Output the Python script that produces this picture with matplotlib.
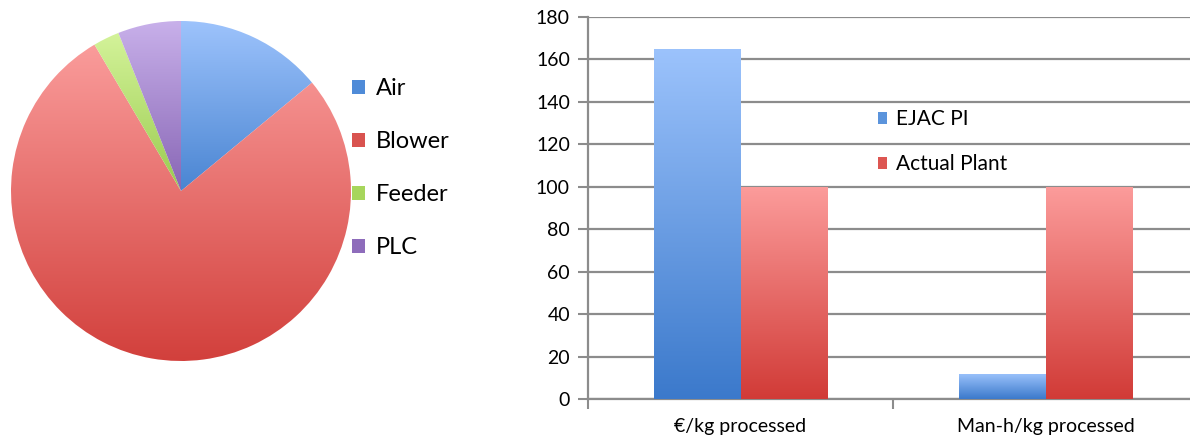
import numpy as np
import matplotlib
matplotlib.use("Agg")
import matplotlib.pyplot as plt
from matplotlib.colors import LinearSegmentedColormap
from matplotlib.patches import Patch

plt.rcParams['font.family'] = ['Lato', 'DejaVu Sans']

# Pie: share of energy/cost by component
pie_labels = ["Air", "Blower", "Feeder", "PLC"]
pie_values = [14.0, 77.5, 2.5, 6.0]

# Bars: EJAC PI vs Actual Plant
categories = ["€/kg processed", "Man-h/kg processed"]
series_names = ["EJAC PI", "Actual Plant"]
ejac_values = [165, 12]
plant_values = [100, 100]
y_ticks = [0, 20, 40, 60, 80, 100, 120, 140, 160, 180]

# (top colour, bottom colour) gradients
pie_grad = [("#9dc3fc", "#4a85d2"),
            ("#fa9c9b", "#d2403c"),
            ("#d4f39a", "#9acb4f"),
            ("#c8b0ea", "#8866b5")]
pie_solid = ["#4f8bd8", "#d9534f", "#a7d65c", "#8e6cbb"]
bar_grad = [("#9cc3fc", "#3b79cb"), ("#fc9c9b", "#d13b37")]
bar_solid = ["#5b94dc", "#dd5652"]

fig = plt.figure(figsize=(11.9, 4.4), dpi=100)


def gradient_fill(ax, patch, top, bottom, extent):
    cmap = LinearSegmentedColormap.from_list("g", [bottom, top])
    grad = np.linspace(0, 1, 256).reshape(-1, 1)
    im = ax.imshow(grad, cmap=cmap, extent=extent, origin="lower",
                   aspect="auto", interpolation="bicubic", zorder=patch.get_zorder())
    im.set_clip_path(patch)
    return im


# ---- pie ----
axp = fig.add_axes([11 / 1190, 1 - 361 / 440, 340 / 1190, 340 / 440])
wedges, _ = axp.pie(pie_values, startangle=90, counterclock=False,
                    colors=pie_solid, radius=1.0,
                    wedgeprops=dict(linewidth=0))
for w, (top, bot) in zip(wedges, pie_grad):
    ext = w.get_path().get_extents()
    gradient_fill(axp, w, top, bot, [ext.x0, ext.x1, ext.y0, ext.y1])
    w.set_facecolor("none")
axp.set_xlim(-1.0, 1.0)
axp.set_ylim(-1.0, 1.0)
axp.set_aspect("auto")
axp.axis("off")

pie_handles = [Patch(facecolor=c, edgecolor="none") for c in pie_solid]
fig.legend(pie_handles, pie_labels, loc="upper left",
           bbox_to_anchor=(352 / 1190, 1 - 78 / 440), frameon=False,
           fontsize=17, handlelength=0.55, handleheight=0.55,
           handletextpad=0.45, labelspacing=1.36, borderaxespad=0,
           borderpad=0)

# ---- bars ----
axb = fig.add_axes([588 / 1190, 1 - 399 / 440, 610 / 1190, 382 / 440])
x = np.arange(len(categories))
width = 0.285
for vals, off, (top, bot), solid in zip([ejac_values, plant_values],
                                         [-width / 2, width / 2],
                                         bar_grad, bar_solid):
    bars = axb.bar(x + off, vals, width, color=solid, linewidth=0, zorder=3)
    for b in bars:
        x0, w_, h = b.get_x(), b.get_width(), b.get_height()
        gradient_fill(axb, b, top, bot, [x0, x0 + w_, 0, h])
        b.set_facecolor("none")

axb.set_xlim(-0.5, 1.5)
axb.set_ylim(0, 180)
axb.set_yticks(y_ticks)
axb.set_xticks([-0.5, 0.5, 1.5], minor=False)
axb.set_xticklabels([])
axb.set_xticks(x, minor=True)
axb.set_xticklabels(categories, minor=True)
axb.tick_params(axis="x", which="minor", length=0, pad=14, labelsize=14)
axb.tick_params(axis="x", which="major", length=7, width=1.5, color="#8c8c8c")
axb.tick_params(axis="y", length=7, width=1.5, color="#8c8c8c", labelsize=14, pad=6)
axb.grid(axis="y", color="#8c8c8c", linewidth=1.6, zorder=1)
axb.set_axisbelow(True)
for s in ["top", "right"]:
    axb.spines[s].set_visible(False)
for s in ["left", "bottom"]:
    axb.spines[s].set_color("#8c8c8c")
    axb.spines[s].set_linewidth(1.6)

bar_handles = [Patch(facecolor=c, edgecolor="none") for c in bar_solid]
axb.legend(bar_handles, series_names, loc="upper left",
           bbox_to_anchor=(878 / 1190, 1 - 109 / 440),
           bbox_transform=fig.transFigure, frameon=False, fontsize=15,
           handlelength=0.42, handleheight=0.5, handletextpad=0.45,
           labelspacing=1.2, borderaxespad=0, borderpad=0)

fig.savefig("out.png", dpi=100)
